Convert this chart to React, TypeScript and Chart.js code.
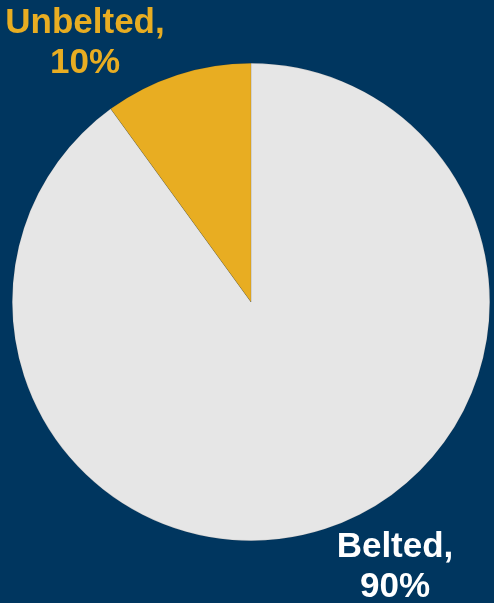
import React, { useEffect, useRef } from "react";
import { Chart, registerables } from "chart.js";

Chart.register(...registerables);

const categories = ["Belted", "Unbelted"];
const shares = [90, 10];
const sliceColors = ["#E6E6E6", "#E8AD22"];
const labelColors = ["#FFFFFF", "#E8AD22"];
const BG = "#00365F";

const labelPlugin = {
  id: "pieLabels",
  afterDraw(chart: any) {
    const ctx = chart.ctx;
    ctx.save();
    ctx.font = "bold 35px 'Liberation Sans', Arial, sans-serif";
    ctx.textAlign = "center";
    ctx.textBaseline = "alphabetic";
    const spots = [
      { x: 395, y1: 557, y2: 597 },
      { x: 85, y1: 33, y2: 73 },
    ];
    categories.forEach((c, i) => {
      ctx.fillStyle = labelColors[i];
      ctx.fillText(c + ",", spots[i].x, spots[i].y1);
      ctx.fillText(shares[i] + "%", spots[i].x, spots[i].y2);
    });
    ctx.restore();
  },
};

export default function App() {
  const ref = useRef<HTMLCanvasElement>(null);
  useEffect(() => {
    document.body.style.margin = "0";
    document.body.style.background = BG;
    const chart = new Chart(ref.current!, {
      type: "pie",
      data: {
        labels: categories,
        datasets: [
          {
            data: shares,
            backgroundColor: sliceColors,
            borderColor: "rgba(0,0,0,0.2)",
            borderWidth: 0.5,
          },
        ],
      },
      options: {
        animation: false,
        responsive: false,
        maintainAspectRatio: false,
        layout: { padding: { left: 12, right: 4, top: 62, bottom: 61 } },
        plugins: { legend: { display: false }, tooltip: { enabled: false } },
      },
      plugins: [labelPlugin],
    });
    return () => chart.destroy();
  }, []);
  return (
    <div style={{ width: 494, height: 603, background: BG }}>
      <canvas ref={ref} width={494} height={603} style={{ display: "block" }} />
    </div>
  );
}
